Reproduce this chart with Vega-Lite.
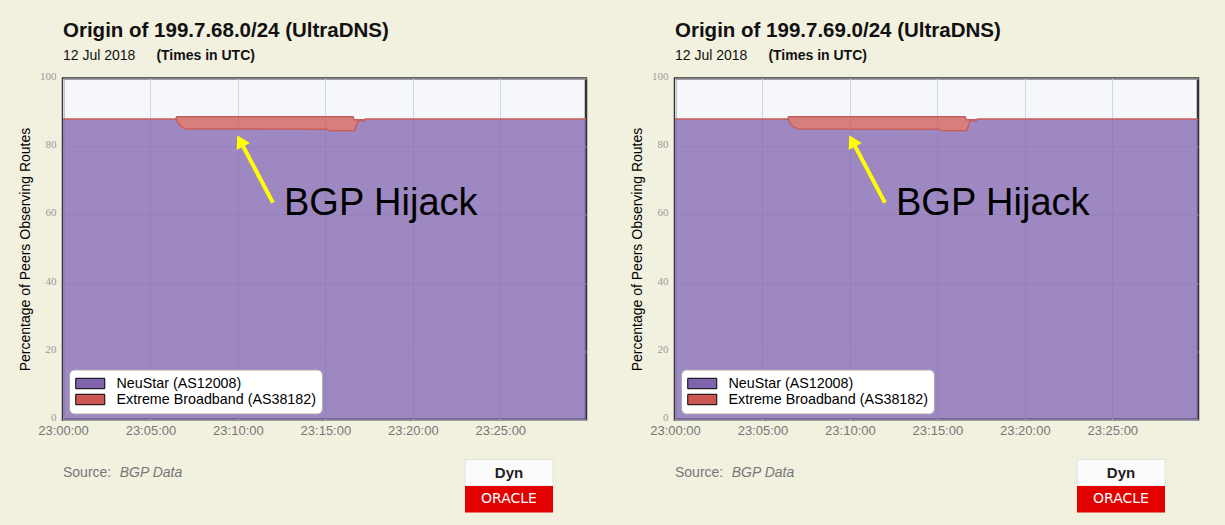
{
  "$schema": "https://vega.github.io/schema/vega-lite/v6.json",
  "background": "#f2f0df",
  "padding": {"left": 17, "top": 20.5, "right": 33, "bottom": 12},
  "bounds": "full",
  "spacing": 38,
  "resolve": {"scale": {"color": "independent"}, "legend": {"color": "independent"}},
  "config": {
    "font": "Liberation Sans",
    "view": {"stroke": null},
    "title": {"anchor": "start", "frame": "group", "font": "Liberation Sans", "fontSize": 20.5, "fontWeight": "bold", "color": "#111", "offset": 8},
    "axisX": {"title": null, "format": "%H:%M:%S", "labelFont": "Liberation Sans", "labelFontSize": 13, "labelColor": "#777", "labelPadding": 5, "ticks": false, "domain": false, "gridColor": "#d5d8de", "labelFlush": false},
    "axisY": {"labelFont": "Liberation Serif", "labelFontSize": 11, "labelColor": "#999", "labelPadding": 7, "ticks": false, "domain": false, "gridColor": "#d5d8de", "labelBaseline": "middle", "labelOffset": -2, "labelFlush": false, "titleFont": "Liberation Sans", "titleFontSize": 14, "titleFontWeight": "normal", "titleColor": "#000", "titlePadding": 7},
    "legend": {"orient": "bottom-left", "offset": 6, "title": null, "fillColor": "white", "strokeColor": "#aaa", "cornerRadius": 5, "padding": 6, "labelFont": "Liberation Sans", "labelFontSize": 14.3, "labelColor": "#000", "labelLimit": 0, "symbolType": "M-1,-0.72H3V0.72H-1Z", "symbolSize": 210.25, "symbolStrokeColor": "#000", "symbolStrokeWidth": 1, "symbolOpacity": 1, "labelOffset": 25.5, "rowPadding": 0}
  },
  "datasets": {
    "origin68": [
      {"time": "2018-07-12T23:00:00Z", "series": "NeuStar (AS12008)", "pct": 88.1},
      {"time": "2018-07-12T23:06:27Z", "series": "NeuStar (AS12008)", "pct": 88.1},
      {"time": "2018-07-12T23:06:30Z", "series": "NeuStar (AS12008)", "pct": 87.9},
      {"time": "2018-07-12T23:06:36Z", "series": "NeuStar (AS12008)", "pct": 86.8},
      {"time": "2018-07-12T23:06:46Z", "series": "NeuStar (AS12008)", "pct": 85.8},
      {"time": "2018-07-12T23:07:03Z", "series": "NeuStar (AS12008)", "pct": 85.2},
      {"time": "2018-07-12T23:15:06Z", "series": "NeuStar (AS12008)", "pct": 85.15},
      {"time": "2018-07-12T23:15:15Z", "series": "NeuStar (AS12008)", "pct": 84.7},
      {"time": "2018-07-12T23:16:35Z", "series": "NeuStar (AS12008)", "pct": 84.7},
      {"time": "2018-07-12T23:16:38Z", "series": "NeuStar (AS12008)", "pct": 84.75},
      {"time": "2018-07-12T23:16:41Z", "series": "NeuStar (AS12008)", "pct": 84.8},
      {"time": "2018-07-12T23:16:52Z", "series": "NeuStar (AS12008)", "pct": 87.6},
      {"time": "2018-07-12T23:17:14Z", "series": "NeuStar (AS12008)", "pct": 87.6},
      {"time": "2018-07-12T23:17:17Z", "series": "NeuStar (AS12008)", "pct": 88.1},
      {"time": "2018-07-12T23:29:54Z", "series": "NeuStar (AS12008)", "pct": 88.1},
      {"time": "2018-07-12T23:00:00Z", "series": "Extreme Broadband (AS38182)", "pct": 0},
      {"time": "2018-07-12T23:06:27Z", "series": "Extreme Broadband (AS38182)", "pct": 0},
      {"time": "2018-07-12T23:06:30Z", "series": "Extreme Broadband (AS38182)", "pct": 0.85},
      {"time": "2018-07-12T23:06:36Z", "series": "Extreme Broadband (AS38182)", "pct": 1.95},
      {"time": "2018-07-12T23:06:46Z", "series": "Extreme Broadband (AS38182)", "pct": 2.95},
      {"time": "2018-07-12T23:07:03Z", "series": "Extreme Broadband (AS38182)", "pct": 3.55},
      {"time": "2018-07-12T23:15:06Z", "series": "Extreme Broadband (AS38182)", "pct": 3.6},
      {"time": "2018-07-12T23:15:15Z", "series": "Extreme Broadband (AS38182)", "pct": 4.05},
      {"time": "2018-07-12T23:16:35Z", "series": "Extreme Broadband (AS38182)", "pct": 4.05},
      {"time": "2018-07-12T23:16:38Z", "series": "Extreme Broadband (AS38182)", "pct": 3.15},
      {"time": "2018-07-12T23:16:41Z", "series": "Extreme Broadband (AS38182)", "pct": 3.1},
      {"time": "2018-07-12T23:16:52Z", "series": "Extreme Broadband (AS38182)", "pct": 0.3},
      {"time": "2018-07-12T23:17:14Z", "series": "Extreme Broadband (AS38182)", "pct": 0.3},
      {"time": "2018-07-12T23:17:17Z", "series": "Extreme Broadband (AS38182)", "pct": 0},
      {"time": "2018-07-12T23:29:54Z", "series": "Extreme Broadband (AS38182)", "pct": 0}
    ],
    "origin69": [
      {"time": "2018-07-12T23:00:00Z", "series": "NeuStar (AS12008)", "pct": 88.1},
      {"time": "2018-07-12T23:06:27Z", "series": "NeuStar (AS12008)", "pct": 88.1},
      {"time": "2018-07-12T23:06:30Z", "series": "NeuStar (AS12008)", "pct": 87.9},
      {"time": "2018-07-12T23:06:36Z", "series": "NeuStar (AS12008)", "pct": 86.8},
      {"time": "2018-07-12T23:06:46Z", "series": "NeuStar (AS12008)", "pct": 85.8},
      {"time": "2018-07-12T23:07:03Z", "series": "NeuStar (AS12008)", "pct": 85.2},
      {"time": "2018-07-12T23:15:06Z", "series": "NeuStar (AS12008)", "pct": 85.15},
      {"time": "2018-07-12T23:15:15Z", "series": "NeuStar (AS12008)", "pct": 84.7},
      {"time": "2018-07-12T23:16:35Z", "series": "NeuStar (AS12008)", "pct": 84.7},
      {"time": "2018-07-12T23:16:38Z", "series": "NeuStar (AS12008)", "pct": 84.75},
      {"time": "2018-07-12T23:16:41Z", "series": "NeuStar (AS12008)", "pct": 84.8},
      {"time": "2018-07-12T23:16:52Z", "series": "NeuStar (AS12008)", "pct": 87.6},
      {"time": "2018-07-12T23:17:14Z", "series": "NeuStar (AS12008)", "pct": 87.6},
      {"time": "2018-07-12T23:17:17Z", "series": "NeuStar (AS12008)", "pct": 88.1},
      {"time": "2018-07-12T23:29:54Z", "series": "NeuStar (AS12008)", "pct": 88.1},
      {"time": "2018-07-12T23:00:00Z", "series": "Extreme Broadband (AS38182)", "pct": 0},
      {"time": "2018-07-12T23:06:27Z", "series": "Extreme Broadband (AS38182)", "pct": 0},
      {"time": "2018-07-12T23:06:30Z", "series": "Extreme Broadband (AS38182)", "pct": 0.85},
      {"time": "2018-07-12T23:06:36Z", "series": "Extreme Broadband (AS38182)", "pct": 1.95},
      {"time": "2018-07-12T23:06:46Z", "series": "Extreme Broadband (AS38182)", "pct": 2.95},
      {"time": "2018-07-12T23:07:03Z", "series": "Extreme Broadband (AS38182)", "pct": 3.55},
      {"time": "2018-07-12T23:15:06Z", "series": "Extreme Broadband (AS38182)", "pct": 3.6},
      {"time": "2018-07-12T23:15:15Z", "series": "Extreme Broadband (AS38182)", "pct": 4.05},
      {"time": "2018-07-12T23:16:35Z", "series": "Extreme Broadband (AS38182)", "pct": 4.05},
      {"time": "2018-07-12T23:16:38Z", "series": "Extreme Broadband (AS38182)", "pct": 3.15},
      {"time": "2018-07-12T23:16:41Z", "series": "Extreme Broadband (AS38182)", "pct": 3.1},
      {"time": "2018-07-12T23:16:52Z", "series": "Extreme Broadband (AS38182)", "pct": 0.3},
      {"time": "2018-07-12T23:17:14Z", "series": "Extreme Broadband (AS38182)", "pct": 0.3},
      {"time": "2018-07-12T23:17:17Z", "series": "Extreme Broadband (AS38182)", "pct": 0},
      {"time": "2018-07-12T23:29:54Z", "series": "Extreme Broadband (AS38182)", "pct": 0}
    ],
    "arrow": [{"t": "2018-07-12T23:12:00Z", "v": 63.6, "t2": "2018-07-12T23:10:08Z", "v2": 81.7}],
    "note": [{"t": "2018-07-12T23:12:38Z", "v": 60, "label": "BGP Hijack"}],
    "subtitle": [{"label": "12 Jul 2018"}, {"label": "(Times in UTC)"}],
    "source": [{"label": "Source:"}, {"label": "BGP Data"}],
    "logo": [{"part": "Dyn"}, {"part": "ORACLE"}]
  },
  "hconcat": [
    {
      "bounds": "flush",
      "spacing": 16,
      "resolve": {"scale": {"color": "independent"}, "legend": {"color": "independent"}},
      "vconcat": [
        {
          "title": "Origin of 199.7.68.0/24 (UltraDNS)",
          "width": 93.4, "height": 13,
          "data": {"name": "subtitle"},
          "encoding": {"x": {"field": "label", "type": "nominal", "scale": {"type": "point", "padding": 0, "domain": ["12 Jul 2018", "(Times in UTC)"]}, "axis": null}, "text": {"field": "label"}},
          "layer": [
            {"transform": [{"filter": "datum.label === '12 Jul 2018'"}], "mark": {"type": "text", "align": "left", "baseline": "middle", "fontSize": 14, "color": "#111"}},
            {"transform": [{"filter": "datum.label === '(Times in UTC)'"}], "mark": {"type": "text", "align": "left", "baseline": "middle", "fontSize": 14, "fontWeight": "bold", "color": "#111"}}
          ]
        },
        {
          "bounds": "flush",
          "spacing": 40,
          "resolve": {"scale": {"color": "independent"}, "legend": {"color": "independent"}},
          "vconcat": [
            {
              "width": 523, "height": 341,
              "view": {"stroke": "#333333", "strokeWidth": 2.5, "fill": "#f5f7fa"},
              "layer": [
                {
                  "data": {"name": "origin68"},
                  "mark": {"type": "area", "fillOpacity": 0.75, "interpolate": "linear"},
                  "encoding": {
                    "x": {"field": "time", "type": "temporal", "scale": {"type": "utc", "nice": false, "domain": [{"year": 2018, "month": 7, "date": 12, "hours": 23, "minutes": 0, "seconds": 0, "utc": true}, {"year": 2018, "month": 7, "date": 12, "hours": 23, "minutes": 29, "seconds": 54, "utc": true}]},
                      "axis": {"values": [{"year": 2018, "month": 7, "date": 12, "hours": 23, "minutes": 0, "utc": true}, {"year": 2018, "month": 7, "date": 12, "hours": 23, "minutes": 5, "utc": true}, {"year": 2018, "month": 7, "date": 12, "hours": 23, "minutes": 10, "utc": true}, {"year": 2018, "month": 7, "date": 12, "hours": 23, "minutes": 15, "utc": true}, {"year": 2018, "month": 7, "date": 12, "hours": 23, "minutes": 20, "utc": true}, {"year": 2018, "month": 7, "date": 12, "hours": 23, "minutes": 25, "utc": true}]}},
                    "y": {"field": "pct", "type": "quantitative", "stack": "zero", "scale": {"domain": [0, 100], "nice": false}, "axis": {"values": [0, 20, 40, 60, 80, 100], "title": "Percentage of Peers Observing Routes"}},
                    "color": {"field": "series", "type": "nominal", "scale": {"domain": ["NeuStar (AS12008)", "Extreme Broadband (AS38182)"], "range": ["#8063ad", "#cc5752"]}},
                    "order": {"field": "series", "sort": "descending"}
                  }
                },
                {
                  "data": {"name": "origin68"},
                  "transform": [
                    {"stack": "pct", "groupby": ["time"], "sort": [{"field": "series", "order": "descending"}], "as": ["pct_lo", "pct_hi"]},
                    {"filter": "datum.series === 'Extreme Broadband (AS38182)'"}
                  ],
                  "mark": {"type": "area", "fill": "transparent", "stroke": "#c65e5c", "strokeWidth": 1.5, "interpolate": "linear"},
                  "encoding": {"x": {"field": "time", "type": "temporal"}, "y": {"field": "pct_hi", "type": "quantitative"}, "y2": {"field": "pct_lo"}}
                },
                {
                  "data": {"name": "arrow"},
                  "mark": {"type": "rule", "color": "#ffff00", "strokeWidth": 4},
                  "encoding": {"x": {"field": "t", "type": "temporal"}, "x2": {"field": "t2"}, "y": {"field": "v", "type": "quantitative"}, "y2": {"field": "v2"}}
                },
                {
                  "data": {"name": "arrow"},
                  "mark": {"type": "point", "shape": "triangle-up", "filled": true, "color": "#ffff00", "opacity": 1, "size": 220, "angle": 332},
                  "encoding": {"x": {"field": "t2", "type": "temporal"}, "y": {"field": "v2", "type": "quantitative"}}
                },
                {
                  "data": {"name": "note"},
                  "mark": {"type": "text", "align": "left", "baseline": "alphabetic", "fontSize": 38, "color": "#000", "font": "Liberation Sans"},
                  "encoding": {"x": {"field": "t", "type": "temporal"}, "y": {"field": "v", "type": "quantitative"}, "text": {"field": "label"}}
                }
              ]
            },
            {
              "bounds": "flush",
              "spacing": 345,
              "hconcat": [
                {
                  "width": 56.7, "height": 26,
                  "data": {"name": "source"},
                  "encoding": {"x": {"field": "label", "type": "nominal", "scale": {"type": "point", "padding": 0, "domain": ["Source:", "BGP Data"]}, "axis": null}, "text": {"field": "label"}},
                  "layer": [
                    {"transform": [{"filter": "datum.label === 'Source:'"}], "mark": {"type": "text", "align": "left", "baseline": "middle", "fontSize": 14, "color": "#777"}},
                    {"transform": [{"filter": "datum.label === 'BGP Data'"}], "mark": {"type": "text", "align": "left", "baseline": "middle", "fontSize": 14, "fontStyle": "italic", "color": "#777"}}
                  ]
                },
                {
                  "width": 88, "height": 53,
                  "data": {"name": "logo"},
                  "encoding": {"y": {"field": "part", "type": "nominal", "scale": {"domain": ["Dyn", "ORACLE"], "paddingInner": 0, "paddingOuter": 0}, "axis": null}},
                  "layer": [
                    {"transform": [{"filter": "datum.part === 'Dyn'"}], "mark": {"type": "rect", "fill": "#fbfbfb", "stroke": "#e2e2e2", "strokeWidth": 1}},
                    {"transform": [{"filter": "datum.part === 'ORACLE'"}], "mark": {"type": "rect", "fill": "#e20000"}},
                    {"transform": [{"filter": "datum.part === 'Dyn'"}], "mark": {"type": "text", "fontSize": 15, "fontWeight": "bold", "color": "#222"}, "encoding": {"text": {"field": "part"}}},
                    {"transform": [{"filter": "datum.part === 'ORACLE'"}], "mark": {"type": "text", "fontSize": 14, "color": "#ffffff", "font": "DejaVu Sans"}, "encoding": {"text": {"field": "part"}}}
                  ]
                }
              ]
            }
          ]
        }
      ]
    },
    {
      "bounds": "flush",
      "spacing": 16,
      "resolve": {"scale": {"color": "independent"}, "legend": {"color": "independent"}},
      "vconcat": [
        {
          "title": "Origin of 199.7.69.0/24 (UltraDNS)",
          "width": 93.4, "height": 13,
          "data": {"name": "subtitle"},
          "encoding": {"x": {"field": "label", "type": "nominal", "scale": {"type": "point", "padding": 0, "domain": ["12 Jul 2018", "(Times in UTC)"]}, "axis": null}, "text": {"field": "label"}},
          "layer": [
            {"transform": [{"filter": "datum.label === '12 Jul 2018'"}], "mark": {"type": "text", "align": "left", "baseline": "middle", "fontSize": 14, "color": "#111"}},
            {"transform": [{"filter": "datum.label === '(Times in UTC)'"}], "mark": {"type": "text", "align": "left", "baseline": "middle", "fontSize": 14, "fontWeight": "bold", "color": "#111"}}
          ]
        },
        {
          "bounds": "flush",
          "spacing": 40,
          "resolve": {"scale": {"color": "independent"}, "legend": {"color": "independent"}},
          "vconcat": [
            {
              "width": 523, "height": 341,
              "view": {"stroke": "#333333", "strokeWidth": 2.5, "fill": "#f5f7fa"},
              "layer": [
                {
                  "data": {"name": "origin69"},
                  "mark": {"type": "area", "fillOpacity": 0.75, "interpolate": "linear"},
                  "encoding": {
                    "x": {"field": "time", "type": "temporal", "scale": {"type": "utc", "nice": false, "domain": [{"year": 2018, "month": 7, "date": 12, "hours": 23, "minutes": 0, "seconds": 0, "utc": true}, {"year": 2018, "month": 7, "date": 12, "hours": 23, "minutes": 29, "seconds": 54, "utc": true}]},
                      "axis": {"values": [{"year": 2018, "month": 7, "date": 12, "hours": 23, "minutes": 0, "utc": true}, {"year": 2018, "month": 7, "date": 12, "hours": 23, "minutes": 5, "utc": true}, {"year": 2018, "month": 7, "date": 12, "hours": 23, "minutes": 10, "utc": true}, {"year": 2018, "month": 7, "date": 12, "hours": 23, "minutes": 15, "utc": true}, {"year": 2018, "month": 7, "date": 12, "hours": 23, "minutes": 20, "utc": true}, {"year": 2018, "month": 7, "date": 12, "hours": 23, "minutes": 25, "utc": true}]}},
                    "y": {"field": "pct", "type": "quantitative", "stack": "zero", "scale": {"domain": [0, 100], "nice": false}, "axis": {"values": [0, 20, 40, 60, 80, 100], "title": "Percentage of Peers Observing Routes"}},
                    "color": {"field": "series", "type": "nominal", "scale": {"domain": ["NeuStar (AS12008)", "Extreme Broadband (AS38182)"], "range": ["#8063ad", "#cc5752"]}},
                    "order": {"field": "series", "sort": "descending"}
                  }
                },
                {
                  "data": {"name": "origin69"},
                  "transform": [
                    {"stack": "pct", "groupby": ["time"], "sort": [{"field": "series", "order": "descending"}], "as": ["pct_lo", "pct_hi"]},
                    {"filter": "datum.series === 'Extreme Broadband (AS38182)'"}
                  ],
                  "mark": {"type": "area", "fill": "transparent", "stroke": "#c65e5c", "strokeWidth": 1.5, "interpolate": "linear"},
                  "encoding": {"x": {"field": "time", "type": "temporal"}, "y": {"field": "pct_hi", "type": "quantitative"}, "y2": {"field": "pct_lo"}}
                },
                {
                  "data": {"name": "arrow"},
                  "mark": {"type": "rule", "color": "#ffff00", "strokeWidth": 4},
                  "encoding": {"x": {"field": "t", "type": "temporal"}, "x2": {"field": "t2"}, "y": {"field": "v", "type": "quantitative"}, "y2": {"field": "v2"}}
                },
                {
                  "data": {"name": "arrow"},
                  "mark": {"type": "point", "shape": "triangle-up", "filled": true, "color": "#ffff00", "opacity": 1, "size": 220, "angle": 332},
                  "encoding": {"x": {"field": "t2", "type": "temporal"}, "y": {"field": "v2", "type": "quantitative"}}
                },
                {
                  "data": {"name": "note"},
                  "mark": {"type": "text", "align": "left", "baseline": "alphabetic", "fontSize": 38, "color": "#000", "font": "Liberation Sans"},
                  "encoding": {"x": {"field": "t", "type": "temporal"}, "y": {"field": "v", "type": "quantitative"}, "text": {"field": "label"}}
                }
              ]
            },
            {
              "bounds": "flush",
              "spacing": 345,
              "hconcat": [
                {
                  "width": 56.7, "height": 26,
                  "data": {"name": "source"},
                  "encoding": {"x": {"field": "label", "type": "nominal", "scale": {"type": "point", "padding": 0, "domain": ["Source:", "BGP Data"]}, "axis": null}, "text": {"field": "label"}},
                  "layer": [
                    {"transform": [{"filter": "datum.label === 'Source:'"}], "mark": {"type": "text", "align": "left", "baseline": "middle", "fontSize": 14, "color": "#777"}},
                    {"transform": [{"filter": "datum.label === 'BGP Data'"}], "mark": {"type": "text", "align": "left", "baseline": "middle", "fontSize": 14, "fontStyle": "italic", "color": "#777"}}
                  ]
                },
                {
                  "width": 88, "height": 53,
                  "data": {"name": "logo"},
                  "encoding": {"y": {"field": "part", "type": "nominal", "scale": {"domain": ["Dyn", "ORACLE"], "paddingInner": 0, "paddingOuter": 0}, "axis": null}},
                  "layer": [
                    {"transform": [{"filter": "datum.part === 'Dyn'"}], "mark": {"type": "rect", "fill": "#fbfbfb", "stroke": "#e2e2e2", "strokeWidth": 1}},
                    {"transform": [{"filter": "datum.part === 'ORACLE'"}], "mark": {"type": "rect", "fill": "#e20000"}},
                    {"transform": [{"filter": "datum.part === 'Dyn'"}], "mark": {"type": "text", "fontSize": 15, "fontWeight": "bold", "color": "#222"}, "encoding": {"text": {"field": "part"}}},
                    {"transform": [{"filter": "datum.part === 'ORACLE'"}], "mark": {"type": "text", "fontSize": 14, "color": "#ffffff", "font": "DejaVu Sans"}, "encoding": {"text": {"field": "part"}}}
                  ]
                }
              ]
            }
          ]
        }
      ]
    }
  ]
}
